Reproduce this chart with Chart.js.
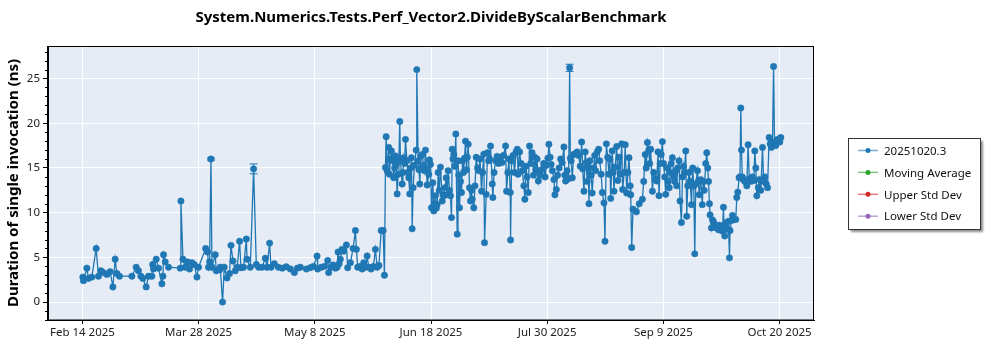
<!DOCTYPE html>
<html>
<head>
<meta charset="utf-8">
<script src="https://cdn.jsdelivr.net/npm/chart.js@4.4.1/dist/chart.umd.min.js"></script>
<style>
  html, body { margin: 0; padding: 0; background: #fff; }
</style>
</head>
<body>
<canvas id="perfChart" width="1000" height="350"></canvas>
<script>
// x values are days counted from Feb 14 2025
const runDays = [
  0.14, 0.36, 1.57, 2.15, 3.36, 4.90, 5.72, 6.58, 7.51, 8.72,
  9.90, 10.87, 11.69, 12.30, 13.23, 17.66, 19.20, 20.02, 20.88, 21.59,
  22.77, 23.60, 24.81, 25.10, 25.38, 26.35, 27.17, 28.39, 28.75, 28.96,
  29.57, 30.75, 34.93, 35.18, 35.90, 36.72, 37.54, 38.26, 39.11, 39.94,
  40.90, 41.47, 44.00, 44.69, 45.05, 45.41, 45.91, 46.26, 47.44, 47.80,
  48.98, 49.23, 50.05, 50.66, 51.63, 52.56, 53.06, 53.77, 54.59, 55.30,
  56.13, 56.63, 57.56, 58.53, 58.78, 59.96, 61.14, 62.10, 62.93, 64.14,
  65.32, 65.93, 66.86, 67.36, 68.54, 69.96, 71.40, 72.80, 74.26, 75.69,
  76.76, 77.83, 79.98, 81.41, 82.48, 83.80, 84.02, 85.34, 86.42, 87.60,
  87.95, 88.74, 89.53, 90.35, 90.96, 91.31, 91.70, 92.13, 92.74, 93.32,
  94.28, 94.74, 95.71, 96.67, 97.50, 97.86, 98.32, 99.11, 99.90, 100.47,
  101.07, 101.68, 102.25, 103.11, 103.93, 104.65, 105.26, 105.90, 106.69, 107.40,
  107.87, 108.23, 108.48, 108.84, 109.41, 109.66, 110.01, 110.37, 110.84, 111.19,
  111.52, 111.80, 112.05, 112.41, 112.77, 113.05, 113.34, 113.59, 114.20, 114.48,
  114.77, 115.09, 115.38, 115.91, 116.20, 116.56, 116.91, 117.24, 117.52, 117.77,
  118.13, 118.59, 119.20, 119.42, 119.92, 120.20, 120.49, 120.85, 121.35, 121.81,
  122.17, 122.53, 123.13, 123.42, 123.71, 123.96, 124.31, 124.67, 125.14, 125.49,
  125.74, 126.10, 126.39, 126.71, 127.06, 127.46, 127.89, 128.50, 128.78, 129.07,
  129.50, 129.93, 130.28, 130.64, 131.11, 131.46, 131.82, 132.07, 132.36, 132.64,
  132.97, 133.36, 133.86, 134.14, 134.43, 134.68, 135.04, 135.40, 135.75, 136.11,
  136.47, 136.83, 137.18, 137.47, 137.79, 138.26, 138.61, 138.97, 139.22, 139.79,
  140.22, 140.65, 141.12, 141.58, 142.01, 142.55, 142.91, 143.37, 143.62, 144.23,
  144.70, 145.05, 145.41, 145.77, 146.38, 146.59, 147.02, 147.56, 148.09, 148.63,
  149.34, 149.88, 150.41, 151.13, 151.49, 151.95, 152.31, 152.81, 152.92, 153.28,
  153.81, 154.35, 154.88, 155.31, 155.60, 156.13, 156.67, 157.10, 157.67, 158.03,
  158.39, 158.81, 159.24, 159.71, 160.14, 160.60, 161.14, 161.60, 162.03, 162.39,
  162.82, 163.29, 163.64, 164.25, 164.72, 165.25, 165.79, 166.25, 166.61, 167.04,
  167.40, 167.86, 168.40, 168.76, 169.26, 169.72, 170.26, 170.80, 171.33, 171.98,
  172.30, 172.59, 173.12, 173.66, 174.02, 174.27, 174.55, 174.98, 175.45, 175.99,
  176.70, 177.24, 177.78, 178.31, 178.67, 179.14, 179.57, 179.92, 180.28, 180.64,
  180.93, 181.28, 181.71, 182.07, 182.61, 182.97, 183.32, 183.86, 184.39, 184.75,
  185.28, 185.71, 186.28, 186.64, 187.14, 187.61, 188.07, 188.40, 188.68, 189.22,
  189.58, 189.86, 190.29, 190.83, 191.26, 191.72, 192.08, 192.62, 192.97, 193.51,
  193.87, 194.40, 194.83, 195.22, 195.65, 195.83, 196.19, 196.65, 197.87, 198.87,
  200.01, 200.48, 201.01, 201.37, 201.80, 202.27, 202.62, 202.97, 203.58, 204.05,
  204.58, 205.12, 205.59, 205.94, 206.37, 206.73, 207.16, 207.55, 207.98, 208.34,
  208.80, 209.23, 209.59, 209.95, 210.30, 210.73, 211.20, 211.55, 211.91, 212.27,
  212.63, 213.09, 213.45, 213.95, 214.31, 214.67, 214.95, 215.49, 215.85, 216.20,
  216.67, 217.10, 217.53, 217.99, 218.35, 218.71, 219.06, 219.67, 219.96, 220.31,
  220.85, 221.39, 221.74, 222.10, 222.64, 222.99, 223.35, 223.64, 223.96, 224.17,
  224.67, 225.03, 225.39, 225.75, 226.10, 226.46, 226.82, 227.18, 227.53, 227.89,
  228.25, 228.61, 228.96, 229.18, 229.43, 229.78, 230.14, 230.50, 230.79, 231.11,
  231.32, 231.57, 232.18, 232.65, 233.36, 233.72, 234.08, 234.54, 234.86, 235.15,
  235.40, 235.69, 236.04, 236.58, 237.30, 237.76, 238.19, 238.73, 239.26, 239.80,
  240.16, 240.52, 240.87, 241.41, 241.77, 242.30, 242.91, 243.31, 243.74, 244.27,
  244.70, 245.27, 245.63, 246.06, 246.49, 246.85, 247.20, 247.67, 248.28, 248.74, 249.09, 249.45
];

// duration of single invocation (ns)
const runValues = [
  2.8, 2.4, 3.8, 2.65, 2.8, 6.0, 2.9, 3.5, 3.3, 3.1,
  3.4, 1.7, 4.8, 3.2, 2.9, 2.9, 3.9, 3.5, 2.9, 2.65,
  1.7, 2.9, 2.9, 4.2, 3.7, 4.8, 3.8, 2.05, 2.9, 5.3,
  4.5, 3.9, 3.8, 11.3, 4.8, 3.9, 4.5, 3.7, 4.4, 4.2,
  2.8, 3.9, 6.0, 5.6, 3.9, 4.5, 16.0, 3.9, 5.3, 3.5,
  3.6, 3.9, 0.0, 3.9, 2.7, 3.2, 6.35, 4.6, 3.5, 3.9,
  6.8, 3.85, 3.9, 7.05, 4.8, 3.9, 14.9, 4.2, 3.9, 3.9,
  4.9, 3.9, 6.6, 3.9, 4.3, 3.9, 3.8, 3.95, 3.7, 3.3,
  3.8, 3.9, 3.7, 3.85, 4.0, 5.15, 3.7, 3.9, 4.0, 4.65,
  3.3, 3.9, 4.15, 3.8, 3.9, 5.6, 4.3, 4.8, 5.9, 5.7,
  6.4, 3.85, 4.4, 6.0, 8.0, 5.9, 3.9, 4.0, 3.7, 4.4,
  3.9, 5.15, 3.9, 3.7, 4.0, 5.9, 3.9, 4.1, 8.0, 8.0,
  3.0, 15.05, 18.5, 14.7, 17.3, 14.3, 16.0, 16.9, 15.8, 13.9,
  15.0, 16.35, 15.4, 12.1, 14.3, 16.0, 20.2, 15.8, 13.2, 14.5,
  16.15, 15.5, 18.2, 15.8, 14.5, 13.9, 12.1, 15.0, 16.15, 8.2,
  12.8, 15.3, 17.0, 26.0, 15.8, 14.8, 13.2, 16.3, 16.5, 15.3,
  14.7, 17.0, 13.1, 14.8, 14.3, 15.9, 15.4, 10.55, 13.35, 10.2,
  11.0, 11.9, 10.5, 10.9, 14.5, 12.5, 15.1, 11.3, 12.0, 11.9,
  12.8, 13.9, 12.0, 14.7, 12.5, 11.9, 9.45, 17.1, 16.0, 16.5,
  15.2, 18.8, 7.6, 15.8, 14.2, 10.55, 13.5, 12.25, 15.8, 14.5,
  16.1, 18.0, 14.8, 16.2, 17.65, 12.8, 11.3, 12.5, 11.5, 10.55,
  13.0, 16.2, 15.0, 14.7, 16.0, 12.4, 14.5, 16.55, 6.65, 12.05,
  16.7, 15.8, 16.0, 17.45, 13.2, 11.7, 14.5, 15.8, 16.3, 15.5,
  16.2, 15.6, 16.4, 17.45, 12.4, 14.5, 16.0, 12.25, 6.95, 15.8,
  16.4, 14.5, 16.8, 17.1, 14.3, 16.8, 15.5, 14.7, 13.0, 11.5,
  15.2, 14.0, 12.25, 17.45, 15.5, 16.7, 14.2, 16.2, 14.8, 16.0,
  13.55, 14.5, 14.2, 14.85, 15.5, 14.0, 15.3, 16.1, 17.65, 16.2,
  15.4, 14.7, 13.7, 12.0, 12.6, 14.2, 15.0, 16.0, 15.6, 17.35,
  14.2, 13.55, 14.7, 13.8, 26.2, 16.1, 15.8, 13.9, 16.5, 16.6,
  16.8, 16.4, 15.2, 17.9, 14.9, 12.4, 16.8, 15.6, 13.5, 15.2,
  11.0, 15.8, 14.2, 12.2, 15.0, 16.4, 14.7, 16.8, 17.1, 15.8,
  14.3, 12.25, 11.1, 6.8, 17.7, 16.2, 14.3, 16.0, 11.6, 16.9,
  14.5, 12.4, 15.1, 17.4, 13.6, 16.2, 14.3, 17.7, 12.6, 14.5,
  17.6, 12.2, 14.5, 16.15, 13.0, 12.0, 6.1, 10.4, 10.1, 11.0,
  11.5, 13.5, 16.5, 15.0, 17.85, 17.0, 15.5, 17.1, 12.4, 14.5,
  13.8, 13.55, 16.8, 11.9, 15.5, 16.5, 17.95, 15.5, 14.0, 12.05,
  15.0, 13.5, 12.8, 14.5, 15.5, 16.15, 14.0, 13.5, 14.7, 13.0,
  15.0, 15.8, 11.3, 8.9, 14.0, 15.2, 14.5, 16.9, 9.6, 13.0,
  14.5, 13.5, 10.9, 15.0, 13.0, 5.4, 13.2, 14.7, 13.5, 12.0,
  13.7, 10.9, 13.5, 12.5, 15.5, 16.7, 15.0, 13.5, 11.0, 9.75,
  8.3, 9.2, 9.0, 8.6, 8.6, 8.3, 8.4, 8.1, 8.6, 8.2,
  8.0, 7.95, 10.6, 8.5, 7.4, 8.8, 8.3, 9.0, 8.1, 4.95,
  8.0, 9.1, 9.7, 9.2, 9.25, 11.7, 12.3, 13.9, 14.0, 21.7,
  17.0, 14.0, 13.7, 13.5, 13.0, 17.6, 13.8, 13.5, 14.0, 13.6,
  16.9, 15.0, 11.9, 12.8, 13.7, 12.5, 17.3, 13.5, 14.0, 13.2,
  12.8, 18.4, 17.7, 17.3, 17.9, 26.35, 17.8, 17.5, 18.2, 18.1, 17.9, 18.4
];

// runs with a visible error bar (index into runValues) and half-width in ns
const errIndex = [46, 66, 284];
const errHalf = [0.12, 0.55, 0.4];

const xTickDays = [0, 41.5, 83, 124.5, 166, 207.5, 249];
const xTickLabels = ['Feb 14 2025', 'Mar 28 2025', 'May 8 2025', 'Jun 18 2025', 'Jul 30 2025', 'Sep 9 2025', 'Oct 20 2025'];
const yTickValues = [0, 5, 10, 15, 20, 25];

const seriesNames = ['20251020.3', 'Moving Average', 'Upper Std Dev', 'Lower Std Dev'];
const seriesColors = ['#1f77b4', '#2ca02c', '#d62728', '#9467bd'];
const legendLineColors = ['rgba(31,119,180,0.6)', 'rgba(44,160,44,0.6)', 'rgba(214,39,40,0.6)', 'rgba(148,103,189,0.6)'];

const FONT = "'Noto Sans', 'DejaVu Sans', sans-serif";

// light blue plot background
const plotBackground = {
  id: 'plotBackground',
  beforeDraw(chart) {
    const { ctx, chartArea: a } = chart;
    ctx.save();
    ctx.fillStyle = '#e5ecf6';
    ctx.fillRect(a.left, a.top, a.right - a.left, a.bottom - a.top);
    ctx.restore();
  }
};

// error bar whiskers for the few runs that show them
const errorBars = {
  id: 'errorBars',
  afterDatasetsDraw(chart) {
    const { ctx, scales: { x, y } } = chart;
    ctx.save();
    ctx.strokeStyle = seriesColors[0];
    ctx.lineWidth = 1;
    errIndex.forEach((idx, i) => {
      const px = x.getPixelForValue(runDays[idx]);
      const hi = y.getPixelForValue(runValues[idx] + errHalf[i]);
      const lo = y.getPixelForValue(runValues[idx] - errHalf[i]);
      ctx.beginPath();
      ctx.moveTo(px, hi); ctx.lineTo(px, lo);
      ctx.moveTo(px - 4, hi); ctx.lineTo(px + 4, hi);
      ctx.moveTo(px - 4, lo); ctx.lineTo(px + 4, lo);
      ctx.stroke();
    });
    ctx.restore();
  }
};

// frame round the plot, minor y ticks, and the boxed legend on the right
const frameAndLegend = {
  id: 'frameAndLegend',
  afterDraw(chart) {
    const { ctx, chartArea: a, scales: { y } } = chart;
    ctx.save();
    ctx.strokeStyle = '#000';
    ctx.lineWidth = 1;
    ctx.strokeRect(Math.round(a.left) - 0.5, Math.round(a.top) + 0.5,
      Math.round(a.right - a.left), Math.round(a.bottom - a.top) - 0.5);

    for (let v = Math.ceil(y.min); v <= y.max; v++) {
      if (v % 5 === 0) continue;
      const py = Math.round(y.getPixelForValue(v)) + 0.5;
      ctx.beginPath();
      ctx.moveTo(y.right - 3, py);
      ctx.lineTo(y.right, py);
      ctx.stroke();
    }

    const lx = Math.round(a.right) + 34, lw = 132, lh = 91;
    const ly = Math.round((a.top + a.bottom) / 2 - lh / 2);
    ctx.shadowColor = 'rgba(0,0,0,0.45)';
    ctx.shadowOffsetX = 3;
    ctx.shadowOffsetY = 3;
    ctx.shadowBlur = 2;
    ctx.fillStyle = '#fff';
    ctx.fillRect(lx, ly, lw, lh);
    ctx.shadowColor = 'transparent';
    ctx.strokeStyle = '#333';
    ctx.strokeRect(lx + 0.5, ly + 0.5, lw, lh);

    ctx.font = '11.5px ' + FONT;
    ctx.textBaseline = 'middle';
    chart.data.datasets.forEach((ds, i) => {
      const cy = ly + 12.5 + i * 21.9;
      ctx.strokeStyle = legendLineColors[i];
      ctx.lineWidth = 1.5;
      ctx.beginPath();
      ctx.moveTo(lx + 10, cy); ctx.lineTo(lx + 30, cy);
      ctx.stroke();
      ctx.fillStyle = seriesColors[i];
      ctx.beginPath();
      ctx.arc(lx + 20, cy, 2.5, 0, Math.PI * 2);
      ctx.fill();
      ctx.fillStyle = '#111';
      ctx.fillText(ds.label, lx + 36, cy + 1);
    });
    ctx.restore();
  }
};

const ctx = document.getElementById('perfChart').getContext('2d');

new Chart(ctx, {
  type: 'scatter',
  data: {
    datasets: seriesNames.map((name, i) => ({
      label: name,
      data: i === 0 ? runDays.map((d, k) => ({ x: d, y: runValues[k] })) : [],
      showLine: true,
      borderColor: seriesColors[i],
      backgroundColor: seriesColors[i],
      borderWidth: 1.3,
      pointRadius: 3.2,
      pointBorderWidth: 0.5,
      pointHoverRadius: 3.2,
      tension: 0
    }))
  },
  options: {
    responsive: false,
    animation: false,
    devicePixelRatio: 1,
    layout: { padding: { right: 186 } },
    plugins: {
      legend: { display: false },
      tooltip: { enabled: false },
      title: {
        display: true,
        fullSize: false,
        text: 'System.Numerics.Tests.Perf_Vector2.DivideByScalarBenchmark',
        color: '#000',
        font: { family: FONT, size: 15, weight: 'bold' },
        padding: { top: 9, bottom: 19 }
      }
    },
    scales: {
      x: {
        type: 'linear',
        min: -12.3,
        max: 261.3,
        afterBuildTicks: (s) => { s.ticks = xTickDays.map(v => ({ value: v })); },
        afterFit: (s) => { s.height = 30; },
        ticks: {
          callback: (v, i) => xTickLabels[i],
          autoSkip: false,
          maxRotation: 0,
          padding: 2,
          color: '#222',
          font: { family: FONT, size: 11.5 }
        },
        grid: { color: '#fff', lineWidth: 1, tickColor: '#000', tickLength: 4 },
        border: { color: '#000', width: 1 }
      },
      y: {
        min: -2.0,
        max: 28.64,
        afterBuildTicks: (s) => { s.ticks = yTickValues.map(v => ({ value: v })); },
        afterFit: (s) => { s.width = 48; },
        ticks: {
          padding: 3,
          color: '#222',
          font: { family: FONT, size: 11.5 }
        },
        grid: { color: '#fff', lineWidth: 1, tickColor: '#000', tickLength: 5 },
        border: { color: '#000', width: 1 },
        title: {
          display: true,
          text: 'Duration of single invocation (ns)',
          color: '#000',
          font: { family: FONT, size: 15, weight: 'bold' },
          padding: { top: 5, bottom: 0 }
        }
      }
    }
  },
  plugins: [plotBackground, errorBars, frameAndLegend]
});
</script>
</body>
</html>
